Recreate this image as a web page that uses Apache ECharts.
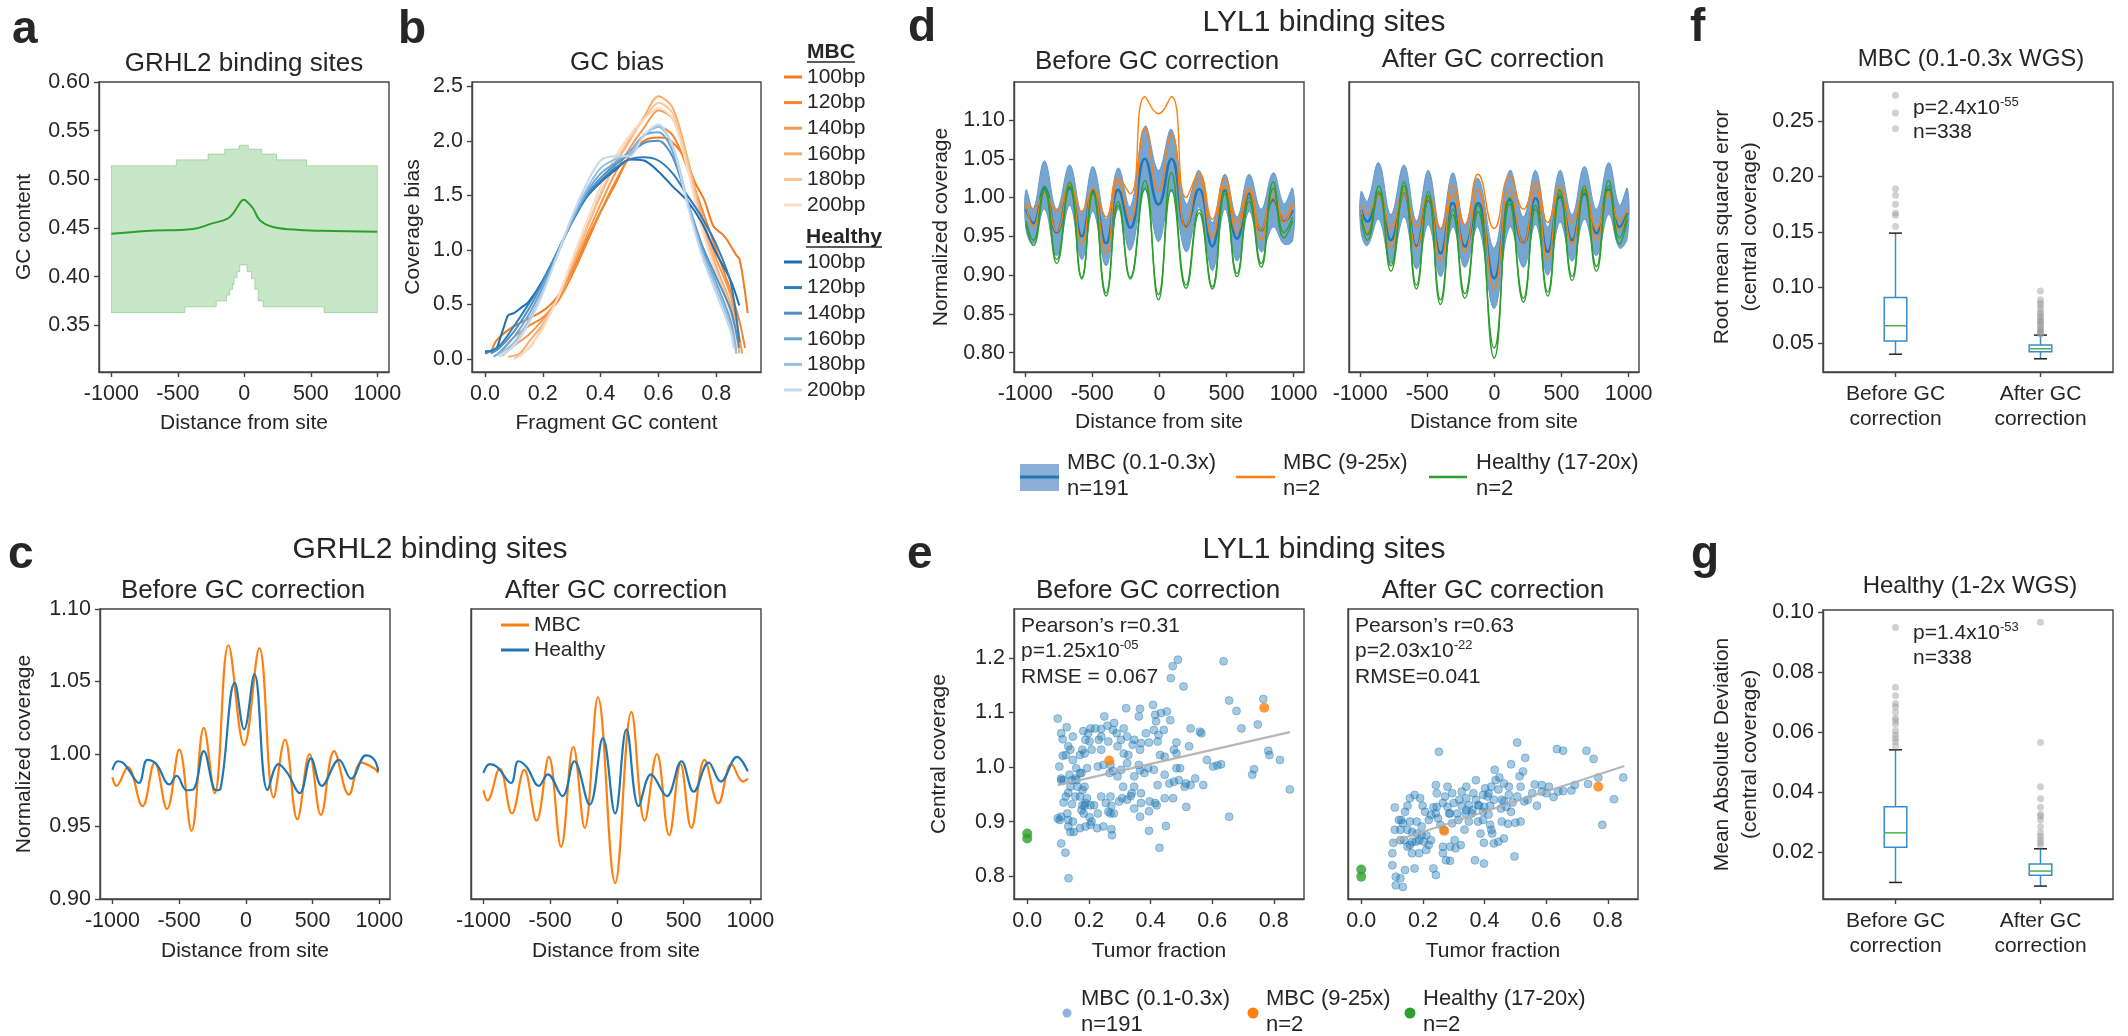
<!DOCTYPE html>
<html>
<head>
<meta charset="utf-8">
<title>GC correction of coverage profiles</title>
<script src="https://cdn.jsdelivr.net/npm/echarts@6/dist/echarts.min.js"></script>
<style>
  html, body { margin: 0; padding: 0; background: #fff; }
  #chart { width: 2128px; height: 1036px; }
</style>
</head>
<body>
<div id="chart"></div>
<script>
// ---------- a: GC content around GRHL2 sites ----------
const aLineX = [-1000, -737, -386, -235, -134, -84, -46, -20, 0, 20, 66, 117, 217, 418, 669, 1000];
const aLineY = [0.444, 0.447, 0.449, 0.455, 0.459, 0.465, 0.473, 0.478, 0.479, 0.477, 0.470, 0.458, 0.451, 0.448, 0.447, 0.446];
const aUpperX = [-1000, -511, -511, -273, -273, -147, -147, -40, -40, 30, 30, 130, 130, 242, 242, 468, 468, 1000];
const aUpperY = [0.514, 0.514, 0.520, 0.520, 0.526, 0.526, 0.531, 0.531, 0.535, 0.535, 0.531, 0.531, 0.526, 0.526, 0.520, 0.520, 0.514, 0.514];
const aLowerX = [-1000, -448, -448, -211, -211, -134, -134, -109, -109, -89, -89, -77, -77, -54, -54, -34, -34, 21, 21, 54, 54, 79, 79, 104, 104, 142, 142, 187, 187, 600, 600, 1000];
const aLowerY = [0.363, 0.363, 0.369, 0.369, 0.375, 0.375, 0.381, 0.381, 0.387, 0.387, 0.392, 0.392, 0.399, 0.399, 0.405, 0.405, 0.412, 0.412, 0.405, 0.405, 0.398, 0.398, 0.387, 0.387, 0.375, 0.375, 0.369, 0.369, 0.369, 0.369, 0.363, 0.363];

// ---------- b: GC bias curves ----------
const bLengths = ['100bp', '120bp', '140bp', '160bp', '180bp', '200bp'];
const bMbcX = [
  [0.023, 0.04, 0.1, 0.2, 0.25, 0.3, 0.35, 0.4, 0.45, 0.5, 0.55, 0.6, 0.63, 0.69, 0.73, 0.76, 0.79, 0.83, 0.87, 0.88, 0.895, 0.909],
  [0.05, 0.1, 0.15, 0.2, 0.25, 0.3, 0.35, 0.4, 0.45, 0.5, 0.55, 0.6, 0.65, 0.7, 0.75, 0.8, 0.85, 0.88, 0.9],
  [0.06, 0.1, 0.15, 0.2, 0.25, 0.3, 0.35, 0.4, 0.45, 0.5, 0.55, 0.6, 0.65, 0.7, 0.75, 0.8, 0.85, 0.89],
  [0.08, 0.12, 0.15, 0.2, 0.25, 0.3, 0.35, 0.4, 0.45, 0.5, 0.55, 0.6, 0.65, 0.7, 0.75, 0.8, 0.85, 0.88],
  [0.1, 0.13, 0.16, 0.2, 0.25, 0.3, 0.35, 0.4, 0.45, 0.5, 0.55, 0.6, 0.65, 0.7, 0.75, 0.8, 0.85, 0.87],
  [0.12, 0.15, 0.2, 0.25, 0.3, 0.35, 0.4, 0.45, 0.5, 0.55, 0.6, 0.65, 0.7, 0.75, 0.8, 0.85, 0.87]
];
const bMbcY = [
  [0.07, 0.17, 0.30, 0.44, 0.57, 0.80, 1.08, 1.35, 1.60, 1.86, 2.00, 2.03, 2.02, 1.85, 1.60, 1.45, 1.22, 1.12, 0.95, 0.92, 0.70, 0.42],
  [0.05, 0.20, 0.30, 0.38, 0.52, 0.76, 1.05, 1.35, 1.62, 1.86, 2.05, 2.13, 2.05, 1.75, 1.38, 1.00, 0.62, 0.35, 0.10],
  [0.03, 0.12, 0.22, 0.36, 0.55, 0.82, 1.12, 1.42, 1.70, 1.93, 2.12, 2.28, 2.20, 1.82, 1.32, 0.92, 0.58, 0.05],
  [0.02, 0.05, 0.15, 0.32, 0.55, 0.85, 1.18, 1.50, 1.78, 2.00, 2.22, 2.41, 2.30, 1.85, 1.30, 0.85, 0.50, 0.05],
  [0.00, 0.05, 0.12, 0.30, 0.55, 0.88, 1.20, 1.52, 1.80, 2.02, 2.20, 2.35, 2.25, 1.80, 1.25, 0.80, 0.45, 0.10],
  [0.02, 0.10, 0.28, 0.55, 0.90, 1.25, 1.58, 1.85, 2.05, 2.20, 2.30, 2.20, 1.75, 1.20, 0.78, 0.42, 0.10]
];
const bHealthyX = [
  [0.0, 0.03, 0.06, 0.08, 0.1, 0.13, 0.15, 0.2, 0.25, 0.3, 0.35, 0.4, 0.45, 0.5, 0.55, 0.6, 0.65, 0.7, 0.75, 0.8, 0.85, 0.88],
  [0.0, 0.05, 0.1, 0.15, 0.2, 0.25, 0.3, 0.35, 0.4, 0.45, 0.5, 0.55, 0.6, 0.65, 0.7, 0.75, 0.8, 0.85, 0.88],
  [0.02, 0.05, 0.1, 0.15, 0.2, 0.25, 0.3, 0.35, 0.4, 0.45, 0.5, 0.55, 0.6, 0.65, 0.7, 0.75, 0.8, 0.85, 0.88],
  [0.03, 0.05, 0.1, 0.15, 0.2, 0.25, 0.3, 0.35, 0.4, 0.45, 0.5, 0.55, 0.6, 0.65, 0.7, 0.75, 0.8, 0.85, 0.87],
  [0.04, 0.1, 0.15, 0.2, 0.25, 0.3, 0.35, 0.4, 0.45, 0.5, 0.55, 0.6, 0.65, 0.7, 0.75, 0.8, 0.85, 0.87],
  [0.05, 0.1, 0.15, 0.2, 0.25, 0.3, 0.35, 0.4, 0.45, 0.5, 0.55, 0.6, 0.65, 0.7, 0.75, 0.8, 0.85, 0.86]
];
const bHealthyY = [
  [0.07, 0.07, 0.25, 0.40, 0.42, 0.48, 0.52, 0.72, 0.98, 1.25, 1.48, 1.62, 1.73, 1.83, 1.82, 1.72, 1.58, 1.45, 1.25, 0.97, 0.72, 0.49],
  [0.05, 0.12, 0.30, 0.50, 0.72, 0.98, 1.25, 1.48, 1.63, 1.75, 1.83, 1.85, 1.82, 1.70, 1.50, 1.30, 1.05, 0.70, 0.15],
  [0.05, 0.10, 0.25, 0.45, 0.70, 0.98, 1.26, 1.50, 1.66, 1.78, 1.88, 1.98, 2.00, 1.85, 1.45, 1.05, 0.75, 0.45, 0.10],
  [0.02, 0.06, 0.20, 0.40, 0.66, 0.96, 1.26, 1.52, 1.70, 1.80, 1.90, 2.05, 2.08, 1.90, 1.45, 1.02, 0.70, 0.35, 0.05],
  [0.03, 0.15, 0.35, 0.62, 0.95, 1.28, 1.55, 1.75, 1.83, 1.88, 2.05, 2.13, 1.95, 1.45, 0.98, 0.65, 0.30, 0.05],
  [0.02, 0.12, 0.32, 0.60, 0.95, 1.30, 1.60, 1.82, 1.86, 1.86, 2.05, 2.15, 1.95, 1.42, 0.95, 0.60, 0.25, 0.10]
];

// ---------- c: GRHL2 normalized coverage ----------
const cBeforeMbcX = [-1000, -970, -885, -775, -683, -591, -499, -407, -315, -234, -131, -13, 101, 208, 293, 385, 477, 562, 661, 772, 864, 963, 992];
const cBeforeMbcY = [0.984, 0.978, 0.991, 0.964, 0.994, 0.962, 1.003, 0.947, 1.018, 0.973, 1.075, 1.006, 1.073, 0.970, 1.010, 0.955, 1.000, 0.958, 1.002, 0.972, 0.994, 0.990, 0.987];
const cBeforeHealthyX = [-1000, -959, -922, -885, -801, -738, -670, -573, -518, -444, -389, -315, -223, -190, -83, -13, 64, 163, 244, 310, 403, 488, 569, 698, 790, 900, 963, 992];
const cBeforeHealthyY = [0.989, 0.995, 0.994, 0.990, 0.980, 0.996, 0.993, 0.979, 0.985, 0.975, 0.976, 1.002, 0.975, 0.976, 1.049, 1.017, 1.055, 0.975, 0.993, 0.987, 0.973, 0.997, 0.978, 0.996, 0.983, 0.999, 0.996, 0.988];
const cAfterMbcX = [-1000, -970, -878, -786, -694, -602, -510, -418, -326, -241, -142, -13, 109, 208, 300, 392, 477, 558, 657, 760, 859, 944, 981];
const cAfterMbcY = [0.975, 0.968, 0.990, 0.959, 0.989, 0.954, 0.998, 0.936, 1.005, 0.949, 1.039, 0.911, 1.029, 0.954, 1.000, 0.944, 0.993, 0.949, 0.996, 0.966, 0.993, 0.981, 0.983];
const cAfterHealthyX = [-1000, -952, -897, -793, -738, -676, -584, -518, -407, -319, -204, -105, -13, 72, 164, 256, 374, 484, 576, 687, 779, 901, 981];
const cAfterHealthyY = [0.987, 0.993, 0.991, 0.980, 0.995, 0.991, 0.978, 0.986, 0.971, 0.995, 0.965, 1.011, 0.959, 1.017, 0.964, 0.986, 0.971, 0.995, 0.974, 0.994, 0.981, 0.998, 0.988];

// ---------- d: LYL1 normalized coverage ----------
const dBeforeX = [-993, -939, -856, -765, -668, -578, -495, -397, -307, -217, -108, -7, 90, 199, 296, 394, 487, 578, 668, 758, 848, 928, 993];
const dBeforeMean = [0.985, 0.967, 1.012, 0.955, 1.012, 0.950, 1.008, 0.941, 1.010, 0.961, 1.050, 0.991, 1.050, 0.962, 1.011, 0.937, 1.009, 0.947, 1.005, 0.958, 0.997, 0.969, 0.984];
const dBeforeUpper = [1.010, 0.985, 1.047, 0.985, 1.042, 0.980, 1.040, 0.972, 1.038, 0.988, 1.092, 1.035, 1.088, 0.992, 1.035, 0.968, 1.030, 0.975, 1.030, 0.985, 1.032, 0.992, 1.012];
const dBeforeLower = [0.958, 0.940, 0.985, 0.925, 0.990, 0.920, 0.982, 0.912, 0.985, 0.932, 1.010, 0.943, 1.008, 0.930, 0.988, 0.906, 0.985, 0.918, 0.982, 0.930, 0.962, 0.940, 0.945];
const dBeforeMbcA = [0.991, 0.986, 1.004, 0.982, 1.016, 0.982, 1.010, 0.975, 1.025, 1.005, 1.130, 1.108, 1.130, 1.000, 1.031, 0.972, 1.025, 0.968, 1.012, 0.958, 1.008, 0.975, 0.993];
const dBeforeMbcB = [0.992, 0.963, 1.007, 0.956, 1.018, 0.940, 1.012, 0.928, 1.022, 0.970, 1.090, 1.008, 1.082, 0.960, 1.025, 0.948, 1.015, 0.955, 1.008, 0.945, 1.000, 0.968, 0.990];
const dBeforeHealthyA = [0.970, 0.945, 1.015, 0.920, 1.020, 0.897, 1.010, 0.877, 0.995, 0.897, 1.022, 0.868, 1.032, 0.887, 0.985, 0.885, 1.010, 0.902, 1.000, 0.915, 1.020, 0.955, 0.975];
const dBeforeHealthyB = [0.965, 0.938, 1.008, 0.915, 1.015, 0.895, 1.005, 0.873, 0.990, 0.895, 1.012, 0.875, 1.010, 0.883, 0.980, 0.882, 1.005, 0.898, 0.995, 0.910, 1.012, 0.948, 0.970];
const dAfterX = [-993, -946, -862, -771, -673, -581, -492, -401, -310, -220, -122, -2, 114, 216, 307, 397, 488, 579, 670, 760, 851, 931, 990];
const dAfterMean = [0.984, 0.969, 1.005, 0.945, 1.005, 0.937, 0.997, 0.928, 0.993, 0.937, 0.993, 0.896, 0.997, 0.941, 0.999, 0.930, 1.001, 0.945, 1.005, 0.954, 1.010, 0.962, 0.980];
const dAfterUpper = [1.008, 0.995, 1.045, 0.978, 1.042, 0.970, 1.035, 0.960, 1.032, 0.965, 1.025, 0.935, 1.035, 0.975, 1.035, 0.962, 1.035, 0.978, 1.040, 0.985, 1.045, 0.990, 1.012];
const dAfterLower = [0.955, 0.938, 0.972, 0.915, 0.975, 0.908, 0.965, 0.898, 0.962, 0.910, 0.962, 0.857, 0.962, 0.910, 0.965, 0.900, 0.968, 0.918, 0.972, 0.925, 0.978, 0.935, 0.948];
const dAfterMbcA = [0.992, 0.980, 1.006, 0.960, 1.010, 0.962, 1.003, 0.960, 1.015, 0.965, 1.030, 0.960, 1.028, 0.985, 1.020, 0.968, 1.015, 0.968, 1.012, 0.960, 1.008, 0.970, 0.985];
const dAfterMbcB = [0.985, 0.955, 1.003, 0.935, 1.005, 0.935, 0.998, 0.918, 1.005, 0.930, 1.010, 0.882, 1.010, 0.940, 1.012, 0.920, 1.008, 0.940, 1.008, 0.945, 1.005, 0.958, 0.978];
const dAfterHealthyA = [0.978, 0.952, 1.015, 0.912, 1.020, 0.887, 1.008, 0.868, 0.985, 0.876, 0.990, 0.793, 1.000, 0.870, 0.990, 0.878, 1.010, 0.898, 1.015, 0.911, 1.022, 0.948, 0.978];
const dAfterHealthyB = [0.972, 0.945, 1.008, 0.905, 1.015, 0.882, 1.002, 0.862, 0.978, 0.870, 0.982, 0.806, 0.992, 0.865, 0.985, 0.873, 1.005, 0.893, 1.010, 0.905, 1.015, 0.940, 0.972];

// ---------- e: central coverage vs tumor fraction ----------
const eBeforeLow = [
  [0.099,1.089],[0.110,1.062],[0.128,1.073],[0.115,1.051],[0.148,1.056],[0.182,1.066],[0.205,1.071],[0.221,1.071],[0.240,1.070],[0.260,1.076],
  [0.250,1.093],[0.278,1.068],[0.290,1.062],[0.321,1.108],[0.366,1.107],[0.362,1.093],[0.408,1.114],[0.415,1.096],[0.418,1.084],[0.434,1.099],
  [0.453,1.102],[0.464,1.086],[0.411,1.068],[0.426,1.059],[0.385,1.062],[0.347,1.050],[0.324,1.056],[0.369,1.044],[0.366,1.032],[0.395,1.045],
  [0.423,1.047],[0.443,1.068],[0.484,1.045],[0.530,1.071],[0.560,1.065],[0.637,1.194],[0.489,1.197],[0.472,1.185],[0.466,1.163],[0.507,1.148],
  [0.655,1.122],[0.679,1.103],[0.695,1.071],[0.748,1.078],[0.766,1.125],[0.782,1.030],[0.786,1.022],[0.820,1.013],[0.852,0.959],[0.736,0.996],
  [0.730,0.986],[0.655,0.909],[0.629,1.005],[0.617,1.003],[0.603,1.001],[0.583,1.013],[0.571,0.967],[0.530,0.967],[0.515,0.970],[0.496,0.998],
  [0.484,0.998],[0.476,0.973],[0.461,0.970],[0.446,0.986],[0.431,1.022],[0.411,0.995],[0.392,0.998],[0.366,0.994],[0.347,0.983],[0.324,1.007],
  [0.313,1.025],[0.305,0.995],[0.293,0.983],[0.278,0.993],[0.267,0.989],[0.247,1.004],[0.229,1.001],[0.209,1.032],[0.186,1.025],[0.171,1.022],
  [0.148,1.013],[0.125,1.022],[0.115,1.021],[0.104,1.001],[0.110,0.979],[0.118,0.976],[0.137,0.986],[0.156,0.979],[0.176,0.989],[0.194,0.998],
  [0.240,1.032],[0.232,1.050],[0.202,1.047],[0.189,1.050],[0.179,1.032],[0.263,1.047],[0.293,1.038],[0.270,1.004],[0.446,1.019],[0.476,1.032],
  [0.484,1.025],[0.511,0.964],[0.525,1.038],[0.423,0.967],[0.415,0.934],[0.397,0.937],[0.369,0.934],[0.339,0.952],[0.324,0.940],[0.308,0.943],
  [0.270,0.946],[0.273,0.929],[0.270,0.915],[0.281,0.915],[0.263,0.918],[0.336,0.947],[0.347,0.924],[0.366,0.909],[0.395,0.919],[0.420,0.930],
  [0.446,0.943],[0.473,0.943],[0.516,0.927],[0.450,0.892],[0.395,0.883],[0.429,0.852],[0.273,0.886],[0.275,0.875],[0.247,0.891],[0.227,0.888],
  [0.209,0.900],[0.189,0.891],[0.202,0.908],[0.183,0.915],[0.176,0.921],[0.186,0.929],[0.179,0.930],[0.189,0.934],[0.171,0.946],[0.163,0.964],
  [0.160,0.976],[0.140,0.964],[0.133,0.953],[0.125,0.946],[0.118,0.935],[0.145,0.932],[0.130,0.915],[0.110,0.909],[0.099,0.906],[0.105,0.903],
  [0.133,0.903],[0.148,0.900],[0.151,0.881],[0.140,0.881],[0.133,0.891],[0.110,0.860],[0.124,0.843],[0.134,0.796],[0.171,0.888],[0.205,0.894],
  [0.205,0.930],[0.194,0.943],[0.156,0.946],[0.145,0.976],[0.186,0.964],[0.179,0.958],
  [0.198,1.062],[0.240,1.056],[0.282,1.081],[0.304,1.050],[0.313,1.071],[0.342,1.041],[0.328,1.022],[0.362,1.004],[0.380,0.989],[0.347,0.964],
  [0.369,0.952],[0.311,0.964],[0.298,0.937],[0.229,0.915],[0.240,0.946],[0.255,0.934],[0.217,0.930],[0.171,0.989],[0.159,0.998],[0.140,1.032],
  [0.133,1.038],[0.110,0.976],[0.492,0.976],[0.545,0.979],[0.565,1.062]
];
const eAfterLow = [
  [0.252,1.028],[0.506,1.045],[0.635,1.033],[0.655,1.030],[0.731,1.030],[0.754,1.015],[0.850,0.981],[0.769,0.981],[0.820,0.941],[0.782,0.894],
  [0.736,0.969],[0.693,0.967],[0.682,0.957],[0.655,0.956],[0.624,0.945],[0.601,0.952],[0.586,0.955],[0.563,0.968],[0.570,0.929],[0.532,1.017],
  [0.525,0.992],[0.517,0.964],[0.514,0.983],[0.486,1.005],[0.479,0.964],[0.471,0.927],[0.517,0.900],[0.497,0.836],[0.476,0.896],[0.463,0.869],
  [0.445,0.863],[0.430,0.860],[0.398,0.861],[0.425,0.878],[0.433,0.995],[0.436,0.976],[0.448,0.981],[0.463,0.970],[0.479,0.949],[0.456,0.940],
  [0.430,0.940],[0.410,0.946],[0.402,0.961],[0.413,0.952],[0.372,0.976],[0.364,0.952],[0.372,0.940],[0.341,0.943],[0.318,0.940],[0.300,0.934],
  [0.288,0.915],[0.311,0.915],[0.338,0.915],[0.359,0.915],[0.379,0.900],[0.395,0.903],[0.418,0.894],[0.422,0.885],[0.387,0.878],[0.369,0.829],
  [0.398,0.823],[0.303,0.866],[0.323,0.857],[0.306,0.851],[0.275,0.829],[0.288,0.828],[0.265,0.854],[0.268,0.885],[0.257,0.894],[0.249,0.906],
  [0.242,0.915],[0.245,0.927],[0.242,0.967],[0.245,0.952],[0.265,0.934],[0.280,0.927],[0.285,0.915],[0.272,0.946],[0.234,0.926],[0.226,0.912],
  [0.219,0.903],[0.207,0.918],[0.199,0.929],[0.191,0.943],[0.173,0.949],[0.158,0.943],[0.150,0.929],[0.142,0.918],[0.130,0.903],[0.127,0.885],
  [0.122,0.903],[0.109,0.926],[0.109,0.885],[0.104,0.861],[0.101,0.842],[0.101,0.820],[0.112,0.799],[0.127,0.796],[0.112,0.783],[0.135,0.780],
  [0.142,0.811],[0.173,0.814],[0.165,0.842],[0.158,0.857],[0.127,0.866],[0.139,0.866],[0.150,0.854],[0.165,0.863],[0.177,0.863],[0.188,0.866],
  [0.203,0.863],[0.196,0.875],[0.180,0.878],[0.165,0.881],[0.150,0.885],[0.135,0.897],[0.158,0.900],[0.180,0.900],[0.196,0.891],[0.211,0.875],
  [0.226,0.866],[0.219,0.857],[0.188,0.842],[0.211,0.848],[0.234,0.814],[0.242,0.802],[0.265,0.842],[0.288,0.854],[0.335,0.885],[0.349,0.900],
  [0.341,0.921],[0.326,0.929],[0.315,0.903],[0.295,0.897],[0.395,0.918],[0.399,0.927],[0.463,0.937],[0.491,0.935],[0.445,0.959],[0.422,0.964],
  [0.395,0.949],[0.341,0.964],[0.326,0.955],[0.295,0.952],[0.280,0.964],[0.349,0.930],[0.379,0.930],[0.456,0.900],[0.486,0.918],[0.529,0.937],
  [0.500,0.898],[0.586,0.967],[0.609,0.964],[0.639,0.955],[0.555,0.952],[0.540,0.940],[0.506,0.946],[0.453,0.924],[0.418,0.929],[0.382,0.930],
  [0.361,0.921],[0.413,0.913]
];
const eBeforeDeep = [[0.266, 1.012], [0.769, 1.109]];
const eAfterDeep = [[0.269, 0.883], [0.769, 0.964]];
const eBeforeHealthy = [[0.0, 0.878], [0.0, 0.869]];
const eAfterHealthy = [[0.0, 0.812], [0.0, 0.799]];
const eBeforeFit = [[0.099, 0.967], [0.852, 1.064]];
const eAfterFit = [[0.101, 0.863], [0.854, 1.002]];

// ---------- f, g: error of central coverage ----------
const boxCats = ['Before GC\ncorrection', 'After GC\ncorrection'];
// [lower whisker, Q1, median, Q3, upper whisker]
const fStats = [[0.040, 0.052, 0.0656, 0.091, 0.149], [0.0359, 0.0422, 0.0449, 0.0482, 0.0572]];
const fOutBefore = [0.273, 0.257, 0.243, 0.189, 0.183, 0.175, 0.167, 0.165, 0.155];
const fOutAfter = [0.097, 0.089, 0.086, 0.084, 0.081, 0.078, 0.076, 0.074, 0.072, 0.070, 0.069, 0.067, 0.065, 0.063, 0.062, 0.060, 0.059, 0.058];
const gStats = [[0.0100, 0.0217, 0.0265, 0.0352, 0.0541], [0.0088, 0.0124, 0.0138, 0.0161, 0.0212]];
const gOutBefore = [0.0948, 0.0749, 0.0721, 0.0695, 0.0684, 0.0666, 0.0646, 0.0638, 0.0626, 0.0604, 0.0590, 0.0579, 0.0568, 0.0553];
const gOutAfter = [0.0965, 0.0565, 0.0418, 0.0378, 0.0350, 0.0327, 0.0320, 0.0308, 0.0285, 0.0265, 0.0254, 0.0243, 0.0232, 0.0224];

// ---------- styles ----------
const SANS = '"Liberation Sans", Arial, sans-serif';
const INK = '#262626';
const AXIS = '#444';
const BLUE = '#1f77b4', ORANGE = '#ff7f0e', GREEN = '#2ca02c';
const BOX = '#3a8bcd', MED = '#4cb050';
const mbcColors = ['#f47a1f', '#f5862f', '#f69a4f', '#f8ad6e', '#fac59a', '#fcdcc2'];
const healthyColors = ['#1f6db0', '#2f7dbb', '#4d91c8', '#6ca6d3', '#96bfe0', '#c3daee'];

function zip(xs, ys) { return xs.map((x, i) => [x, ys[i]]); }
const f2 = v => v.toFixed(2);
const f1 = v => v.toFixed(1);
const f0 = v => String(v);

function axis(dim, grid, min, max, ticks, fmt, o) {
  o = o || {};
  const show = o.labels !== false;
  return {
    type: 'value', gridIndex: grid, min: min, max: max, z: 5,
    name: o.name || '', nameLocation: 'middle', nameGap: o.gap || 30,
    nameRotate: dim === 'y' ? 90 : 0,
    nameTextStyle: { fontFamily: SANS, fontSize: 21, color: INK, lineHeight: 28 },
    axisLine: { show: true, onZero: false, lineStyle: { color: AXIS, width: 1.4 } },
    axisTick: { show: show, customValues: ticks, length: 5, lineStyle: { color: AXIS, width: 1.4 } },
    axisLabel: { show: show, customValues: ticks, formatter: fmt, fontFamily: SANS, fontSize: 21.5, color: INK, margin: dim === 'x' ? 11 : 9 },
    splitLine: { show: false }
  };
}

function catAxis(grid) {
  return {
    type: 'category', gridIndex: grid, data: boxCats, z: 5,
    axisLine: { show: true, lineStyle: { color: AXIS, width: 1.4 } },
    axisTick: { show: true, alignWithLabel: true, length: 5, lineStyle: { color: AXIS, width: 1.4 } },
    axisLabel: { fontFamily: SANS, fontSize: 21, color: INK, lineHeight: 25, margin: 10 },
    splitLine: { show: false }
  };
}

function line(i, pts, color, width, extra) {
  return Object.assign({
    type: 'line', xAxisIndex: i, yAxisIndex: i, data: pts, symbol: 'none', showSymbol: false,
    smooth: 0.4, lineStyle: { color: color, width: width }, itemStyle: { color: color }, silent: true
  }, extra || {});
}

// filled region between an upper and a lower boundary, drawn as one polygon
function band(i, upper, lower, fill, edge, smooth) {
  return {
    type: 'custom', xAxisIndex: i, yAxisIndex: i, silent: true, data: [upper[0]],
    renderItem: function (params, api) {
      const pts = upper.concat(lower.slice().reverse()).map(p => api.coord(p));
      return { type: 'polygon', shape: { points: pts, smooth: smooth || 0 }, style: { fill: fill, stroke: edge, lineWidth: 1 } };
    }
  };
}

function dots(i, pts, color, size, border) {
  return {
    type: 'scatter', xAxisIndex: i, yAxisIndex: i, data: pts, symbolSize: size, silent: true,
    itemStyle: { color: color, borderColor: border || 'transparent', borderWidth: border ? 0.8 : 0 }
  };
}

function boxes(i, stats) {
  return {
    type: 'custom', xAxisIndex: i, yAxisIndex: i, silent: true,
    data: stats.map((s, k) => [k].concat(s)),
    encode: { x: 0, y: [1, 2, 3, 4, 5] },
    renderItem: function (params, api) {
      const k = api.value(0);
      const p = j => api.coord([k, api.value(j)]);
      const lo = p(1), q1 = p(2), md = p(3), q3 = p(4), hi = p(5);
      const cx = lo[0], hw = 11.3, cw = 6.5;
      const seg = (x1, y1, x2, y2, c) => ({ type: 'line', shape: { x1: x1, y1: y1, x2: x2, y2: y2 }, style: { stroke: c, lineWidth: 1.5 } });
      return {
        type: 'group', children: [
          seg(cx, q1[1], cx, lo[1], BOX),
          seg(cx, q3[1], cx, hi[1], BOX),
          seg(cx - cw, lo[1], cx + cw, lo[1], '#222'),
          seg(cx - cw, hi[1], cx + cw, hi[1], '#222'),
          { type: 'rect', shape: { x: cx - hw, y: q3[1], width: 2 * hw, height: q1[1] - q3[1] }, style: { fill: 'none', stroke: BOX, lineWidth: 1.5 } },
          seg(cx - hw, md[1], cx + hw, md[1], MED)
        ]
      };
    }
  };
}

function outliers(i, before, after) {
  const pts = before.map(v => [0, v]).concat(after.map(v => [1, v]));
  return dots(i, pts, 'rgba(150,150,150,0.55)', 7);
}

function T(x, y, text, size, o) {
  o = o || {};
  return {
    type: 'text', x: x, y: y, silent: true, z: 10,
    style: {
      text: text, fontSize: size, fontFamily: SANS, fontWeight: o.bold ? 'bold' : 'normal',
      fill: INK, align: o.align || 'center', verticalAlign: 'middle', rich: o.rich
    }
  };
}
function supText(x, y, base, sup, size) {
  return T(x, y, '{a|' + base + '}{b|' + sup + '}', size, {
    align: 'left',
    rich: {
      a: { fontSize: size, fontFamily: SANS, fill: INK, lineHeight: size + 4 },
      b: { fontSize: Math.round(size * 0.62), fontFamily: SANS, fill: INK, lineHeight: 12, verticalAlign: 'top' }
    }
  });
}
function seg(x1, y1, x2, y2, color, w) {
  return { type: 'line', silent: true, shape: { x1: x1, y1: y1, x2: x2, y2: y2 }, style: { stroke: color, lineWidth: w } };
}

// ---------- grids ----------
const gridBox = [
  [99, 82, 290, 290],    // 0 a
  [472, 82, 289, 290],   // 1 b
  [1014, 82, 290, 290],  // 2 d before
  [1349, 82, 290, 290],  // 3 d after
  [1823, 82, 290, 290],  // 4 f
  [100, 609, 290, 290],  // 5 c before
  [471, 609, 290, 290],  // 6 c after
  [1014, 609, 290, 290], // 7 e before
  [1348, 609, 290, 290], // 8 e after
  [1823, 610, 290, 289]  // 9 g
];

const distTicks = [-1000, -500, 0, 500, 1000];
const tfTicks = [0, 0.2, 0.4, 0.6, 0.8];
const xAxes = [
  axis('x', 0, -1093, 1088, distTicks, f0, { name: 'Distance from site', gap: 37 }),
  axis('x', 1, -0.045, 0.955, tfTicks, f1, { name: 'Fragment GC content', gap: 37 }),
  axis('x', 2, -1083, 1077, distTicks, f0, { name: 'Distance from site', gap: 36 }),
  axis('x', 3, -1083, 1077, distTicks, f0, { name: 'Distance from site', gap: 36 }),
  catAxis(4),
  axis('x', 5, -1093, 1080, distTicks, f0, { name: 'Distance from site', gap: 38 }),
  axis('x', 6, -1093, 1080, distTicks, f0, { name: 'Distance from site', gap: 38 }),
  axis('x', 7, -0.043, 0.898, tfTicks, f1, { name: 'Tumor fraction', gap: 38 }),
  axis('x', 8, -0.043, 0.898, tfTicks, f1, { name: 'Tumor fraction', gap: 38 }),
  catAxis(9)
];
const dTicks = [0.80, 0.85, 0.90, 0.95, 1.00, 1.05, 1.10];
const cTicks = [0.90, 0.95, 1.00, 1.05, 1.10];
const eTicks = [0.8, 0.9, 1.0, 1.1, 1.2];
const yAxes = [
  axis('y', 0, 0.302, 0.60, [0.35, 0.40, 0.45, 0.50, 0.55, 0.60], f2, { name: 'GC content', gap: 61 }),
  axis('y', 1, -0.12, 2.54, [0, 0.5, 1.0, 1.5, 2.0, 2.5], f1, { name: 'Coverage bias', gap: 45 }),
  axis('y', 2, 0.775, 1.149, dTicks, f2, { name: 'Normalized coverage', gap: 59 }),
  axis('y', 3, 0.775, 1.149, dTicks, f2, { labels: false }),
  axis('y', 4, 0.024, 0.285, [0.05, 0.10, 0.15, 0.20, 0.25], f2, { name: 'Root mean squared error\n(central coverage)', gap: 59 }),
  axis('y', 5, 0.90, 1.10, cTicks, f2, { name: 'Normalized coverage', gap: 62 }),
  axis('y', 6, 0.90, 1.10, cTicks, f2, { labels: false }),
  axis('y', 7, 0.758, 1.29, eTicks, f1, { name: 'Central coverage', gap: 61 }),
  axis('y', 8, 0.758, 1.29, eTicks, f1, { labels: false }),
  axis('y', 9, 0.0045, 0.1006, [0.02, 0.04, 0.06, 0.08, 0.10], f2, { name: 'Mean Absolute Deviation\n(central coverage)', gap: 59 })
];

// ---------- series ----------
const series = [];
// a
series.push(band(0, zip(aUpperX, aUpperY), zip(aLowerX, aLowerY), 'rgba(44,160,44,0.26)', 'rgba(44,160,44,0.3)', 0));
series.push(line(0, zip(aLineX, aLineY), GREEN, 2));
// b
bLengths.forEach((len, k) => {
  series.push(line(1, zip(bMbcX[k], bMbcY[k]), mbcColors[k], 2, { name: 'MBC ' + len, smooth: 0.3 }));
});
bLengths.forEach((len, k) => {
  series.push(line(1, zip(bHealthyX[k], bHealthyY[k]), healthyColors[k], 2, { name: 'Healthy ' + len, smooth: 0.3 }));
});
// d
[[2, dBeforeX, dBeforeMean, dBeforeUpper, dBeforeLower, dBeforeMbcA, dBeforeMbcB, dBeforeHealthyA, dBeforeHealthyB],
 [3, dAfterX, dAfterMean, dAfterUpper, dAfterLower, dAfterMbcA, dAfterMbcB, dAfterHealthyA, dAfterHealthyB]].forEach(d => {
  const i = d[0], xs = d[1];
  series.push(band(i, zip(xs, d[3]), zip(xs, d[4]), '#76a5d2', '#6298cb', 0.4));
  series.push(line(i, zip(xs, d[2]), BLUE, 2.6, { smooth: 0.5 }));
  series.push(line(i, zip(xs, d[5]), ORANGE, 1.4, { smooth: 0.5 }));
  series.push(line(i, zip(xs, d[6]), ORANGE, 1.4, { smooth: 0.5 }));
  series.push(line(i, zip(xs, d[7]), GREEN, 1.4, { smooth: 0.5 }));
  series.push(line(i, zip(xs, d[8]), GREEN, 1.4, { smooth: 0.5 }));
});
// f
series.push(boxes(4, fStats));
series.push(outliers(4, fOutBefore, fOutAfter));
// c
series.push(line(5, zip(cBeforeMbcX, cBeforeMbcY), ORANGE, 2.2, { name: 'MBC' }));
series.push(line(5, zip(cBeforeHealthyX, cBeforeHealthyY), BLUE, 2.2, { name: 'Healthy' }));
series.push(line(6, zip(cAfterMbcX, cAfterMbcY), ORANGE, 2.2, { name: 'MBC' }));
series.push(line(6, zip(cAfterHealthyX, cAfterHealthyY), BLUE, 2.2, { name: 'Healthy' }));
// e
[[7, eBeforeLow, eBeforeFit, eBeforeDeep, eBeforeHealthy], [8, eAfterLow, eAfterFit, eAfterDeep, eAfterHealthy]].forEach(e => {
  const i = e[0];
  series.push(dots(i, e[1], 'rgba(31,119,180,0.5)', 8, 'rgba(31,119,180,0.6)'));
  series.push(line(i, e[2], 'rgba(175,175,175,0.9)', 2.2, { smooth: false }));
  series.push(dots(i, e[3], ORANGE, 10));
  series.push(dots(i, e[4], GREEN, 10));
});
// g
series.push(boxes(9, gStats));
series.push(outliers(9, gOutBefore, gOutAfter));

// ---------- texts and hand-drawn legends ----------
const graphic = [
  T(12, 30, 'a', 46, { bold: true, align: 'left' }),
  T(398, 30, 'b', 46, { bold: true, align: 'left' }),
  T(908, 28, 'd', 46, { bold: true, align: 'left' }),
  T(1690, 28, 'f', 46, { bold: true, align: 'left' }),
  T(8, 555, 'c', 46, { bold: true, align: 'left' }),
  T(907, 555, 'e', 46, { bold: true, align: 'left' }),
  T(1691, 555, 'g', 46, { bold: true, align: 'left' }),

  T(244, 64, 'GRHL2 binding sites', 26),
  T(617, 63, 'GC bias', 26),
  T(1971, 59, 'MBC (0.1-0.3x WGS)', 24),
  T(1970, 586, 'Healthy (1-2x WGS)', 24),

  T(1324, 23, 'LYL1 binding sites', 30),
  T(1157, 62, 'Before GC correction', 26),
  T(1493, 60, 'After GC correction', 26),
  T(430, 550, 'GRHL2 binding sites', 30),
  T(243, 591, 'Before GC correction', 26),
  T(616, 591, 'After GC correction', 26),
  T(1324, 550, 'LYL1 binding sites', 30),
  T(1158, 591, 'Before GC correction', 26),
  T(1493, 591, 'After GC correction', 26),

  supText(1913, 108, 'p=2.4x10', '-55', 21),
  T(1913, 132, 'n=338', 21, { align: 'left' }),
  supText(1913, 633, 'p=1.4x10', '-53', 21),
  T(1913, 658, 'n=338', 21, { align: 'left' }),

  T(1021, 626, 'Pearson\u2019s r=0.31', 21, { align: 'left' }),
  supText(1021, 651, 'p=1.25x10', '-05', 21),
  T(1021, 677, 'RMSE = 0.067', 21, { align: 'left' }),
  T(1355, 626, 'Pearson\u2019s r=0.63', 21, { align: 'left' }),
  supText(1355, 651, 'p=2.03x10', '-22', 21),
  T(1355, 677, 'RMSE=0.041', 21, { align: 'left' }),

  // b legend headers
  T(831, 52, 'MBC', 21, { bold: true }),
  seg(807, 62, 855, 62, INK, 1.4),
  T(844, 237, 'Healthy', 21, { bold: true }),
  seg(806, 247, 882, 247, INK, 1.4),

  // d legend
  { type: 'rect', silent: true, shape: { x: 1020, y: 464, width: 39, height: 27 }, style: { fill: '#8cafd8' } },
  seg(1020, 477, 1059, 477, BLUE, 3),
  T(1067, 463, 'MBC (0.1-0.3x)', 22, { align: 'left' }),
  T(1067, 489, 'n=191', 22, { align: 'left' }),
  seg(1236, 477, 1275, 477, ORANGE, 2.5),
  T(1283, 463, 'MBC (9-25x)', 22, { align: 'left' }),
  T(1283, 489, 'n=2', 22, { align: 'left' }),
  seg(1429, 477, 1467, 477, GREEN, 2.5),
  T(1476, 463, 'Healthy (17-20x)', 22, { align: 'left' }),
  T(1476, 489, 'n=2', 22, { align: 'left' }),

  // e legend
  { type: 'circle', silent: true, shape: { cx: 1067, cy: 1013, r: 4.5 }, style: { fill: '#93b4da' } },
  T(1081, 999, 'MBC (0.1-0.3x)', 22, { align: 'left' }),
  T(1081, 1025, 'n=191', 22, { align: 'left' }),
  { type: 'circle', silent: true, shape: { cx: 1253, cy: 1013, r: 5.5 }, style: { fill: ORANGE } },
  T(1266, 999, 'MBC (9-25x)', 22, { align: 'left' }),
  T(1266, 1025, 'n=2', 22, { align: 'left' }),
  { type: 'circle', silent: true, shape: { cx: 1410, cy: 1013, r: 5.5 }, style: { fill: GREEN } },
  T(1423, 999, 'Healthy (17-20x)', 22, { align: 'left' }),
  T(1423, 1025, 'n=2', 22, { align: 'left' })
];

const legendBase = {
  orient: 'vertical', selectedMode: false, padding: 0, icon: 'rect',
  itemWidth: 18, itemHeight: 3, itemGap: 1.6,
  textStyle: { fontFamily: SANS, fontSize: 21, color: INK, lineHeight: 24 },
  formatter: name => name.split(' ')[1]
};

const option = {
  animation: false,
  backgroundColor: '#fff',
  grid: gridBox.map(g => ({ left: g[0], top: g[1], width: g[2], height: g[3], show: true, borderColor: AXIS, borderWidth: 1.4, z: 5 })),
  xAxis: xAxes,
  yAxis: yAxes,
  legend: [
    Object.assign({}, legendBase, { left: 784, top: 65, data: bLengths.map(l => 'MBC ' + l) }),
    Object.assign({}, legendBase, { left: 784, top: 250, data: bLengths.map(l => 'Healthy ' + l) }),
    {
      orient: 'vertical', selectedMode: false, padding: 0, icon: 'rect', left: 501, top: 613,
      itemWidth: 28, itemHeight: 3, itemGap: 1, data: ['MBC', 'Healthy'],
      textStyle: { fontFamily: SANS, fontSize: 21, color: INK, lineHeight: 24 }
    }
  ],
  series: series,
  graphic: graphic
};

const chart = echarts.init(document.getElementById('chart'), null, { renderer: 'canvas' });
chart.setOption(option);
window.addEventListener('resize', function () { chart.resize(); });
</script>
</body>
</html>
